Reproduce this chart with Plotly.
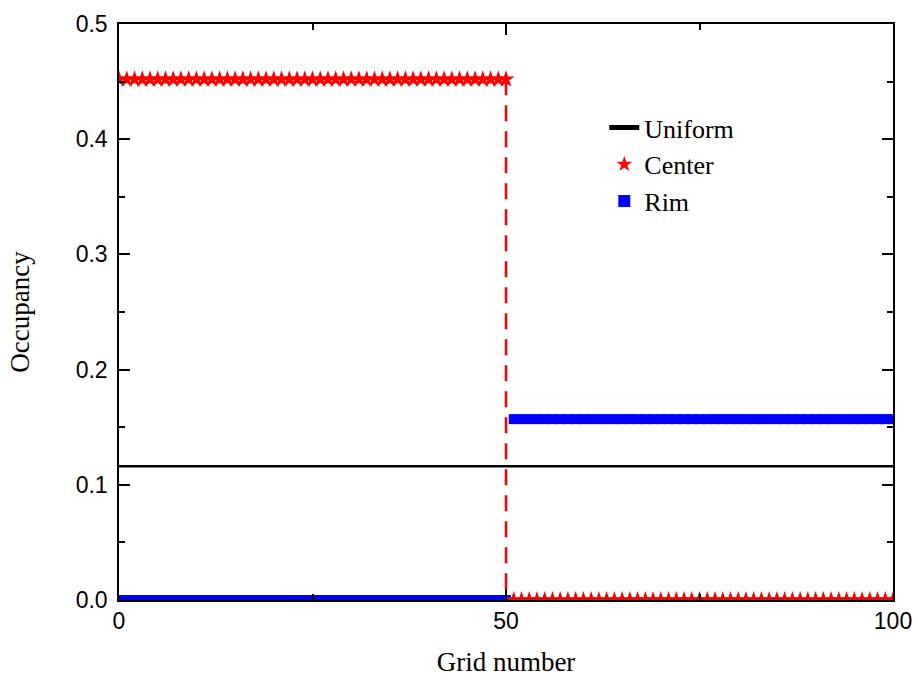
import plotly.graph_objects as go

# Grid numbers along the channel
grid = list(range(0, 101))

# Occupancy profiles (plateau levels per grid number)
uniform_level = 0.116
center_inner, center_outer = 0.452, 0.0
rim_inner, rim_outer = 0.0, 0.157
split_index = 50  # last grid number of the inner zone

uniform = [uniform_level] * len(grid)
center = [center_inner if g <= split_index else center_outer for g in grid]
rim = [rim_inner if g <= split_index else rim_outer for g in grid]

x_ticks = [0, 50, 100]
y_ticks = [0.0, 0.1, 0.2, 0.3, 0.4, 0.5]

serif = "Liberation Serif, Times New Roman, serif"
sans = "Liberation Sans, Arial, sans-serif"

fig = go.Figure()

fig.add_trace(go.Scatter(
    x=grid, y=uniform, mode="lines", name="Uniform",
    line=dict(color="black", width=2.5), legendrank=1,
))

fig.add_trace(go.Scatter(
    x=grid, y=rim, mode="markers", name="Rim",
    marker=dict(symbol="square", size=10, color="#0000ff", line=dict(width=0)),
    legendrank=3,
))

# Dashed step joining the two center plateaus
fig.add_trace(go.Scatter(
    x=[grid[split_index], grid[split_index]],
    y=[center[split_index], center[split_index + 1]],
    mode="lines", showlegend=False,
    line=dict(color="#ff0000", width=2.5, dash="16px,10px"),
))

fig.add_trace(go.Scatter(
    x=grid, y=center, mode="markers", name="Center",
    marker=dict(symbol="star", size=13, color="#ff0000", line=dict(width=0)),
    legendrank=2,
))

axis_common = dict(
    showline=True, linecolor="black", linewidth=1.5, mirror="ticks",
    ticks="inside", ticklen=11, tickwidth=1.5, tickcolor="black",
    showgrid=False, zeroline=False, automargin=False,
    tickfont=dict(family=sans, size=23, color="black"),
)

fig.update_xaxes(
    range=[0, 100], tickvals=x_ticks,
    minor=dict(ticks="inside", ticklen=6, tickwidth=1.5, tickcolor="black", dtick=25, showgrid=False),
    title=dict(text="Grid number", font=dict(family=serif, size=27, color="black"), standoff=19),
    **axis_common,
)
fig.update_yaxes(
    range=[0, 0.5], tickvals=y_ticks, tickformat=".1f", ticklabelstandoff=5,
    minor=dict(ticks="inside", ticklen=6, tickwidth=1.5, tickcolor="black", dtick=0.05, showgrid=False),
    title=dict(text="Occupancy", font=dict(family=serif, size=27, color="black"), standoff=38),
    **axis_common,
)

fig.update_layout(
    width=918, height=684,
    margin=dict(l=119, r=25, t=24, b=84),
    plot_bgcolor="white", paper_bgcolor="white",
    legend=dict(
        x=0.627, y=0.861, xanchor="left", yanchor="top",
        font=dict(family=serif, size=26, color="black"),
        bgcolor="rgba(0,0,0,0)", borderwidth=0,
        itemsizing="constant",
    ),
)

fig.write_html("out.html")
